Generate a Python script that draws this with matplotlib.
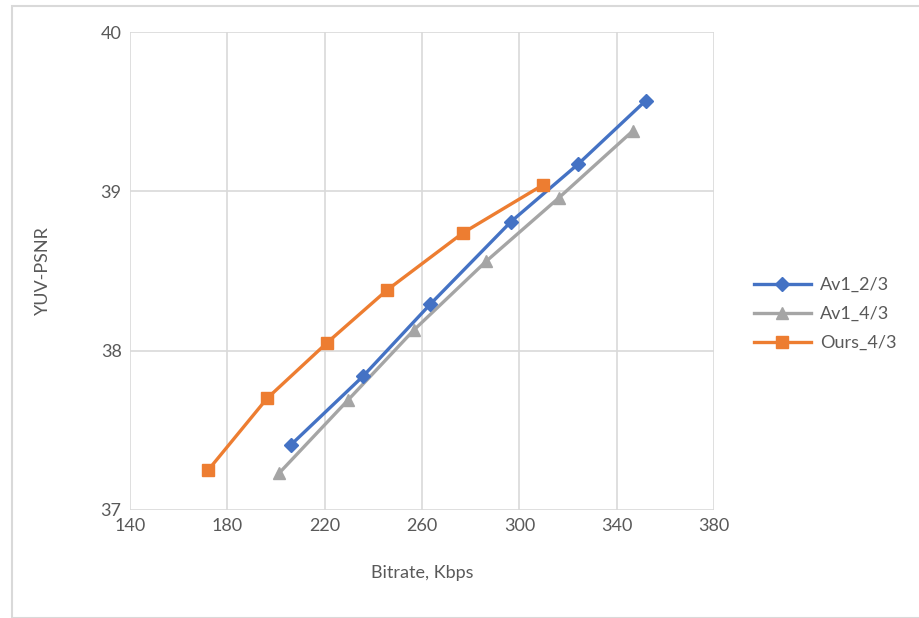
import matplotlib
matplotlib.use("Agg")
import matplotlib.pyplot as plt
from matplotlib.patches import Rectangle

# ---- data ----
av1_23_rate = [206.2, 235.8, 263.3, 296.6, 324.1, 352.0]
av1_23_psnr = [37.41, 37.84, 38.29, 38.81, 39.17, 39.57]

av1_43_rate = [201.2, 229.6, 256.7, 286.3, 316.3, 346.7]
av1_43_psnr = [37.23, 37.69, 38.13, 38.56, 38.96, 39.38]

ours_43_rate = [172.1, 196.3, 221.0, 245.6, 276.9, 309.7]
ours_43_psnr = [37.25, 37.70, 38.05, 38.38, 38.74, 39.04]

x_ticks = [140, 180, 220, 260, 300, 340, 380]
y_ticks = [37, 38, 39, 40]

TXT = "#595959"
GRID = "#d9d9d9"
plt.rcParams["font.family"] = ["Lato", "DejaVu Sans"]

fig = plt.figure(figsize=(9.2, 6.18), dpi=100)
# outer chart border
fig.patches.append(Rectangle((12 / 920, 0), 1.0, 1 - 6 / 618, transform=fig.transFigure,
                             fill=False, edgecolor=GRID, linewidth=1.5))

ax = fig.add_axes([130 / 920, 1 - 510 / 618, (714 - 130) / 920, (510 - 32) / 618])

ax.plot(av1_23_rate, av1_23_psnr, color="#4472C4", lw=2.4, marker="D", ms=7,
        label="Av1_2/3", zorder=4)
ax.plot(av1_43_rate, av1_43_psnr, color="#A5A5A5", lw=2.4, marker="^", ms=9,
        label="Av1_4/3", zorder=3)
ax.plot(ours_43_rate, ours_43_psnr, color="#ED7D31", lw=2.4, marker="s", ms=9,
        label="Ours_4/3", zorder=5)

ax.set_xlim(140, 380)
ax.set_ylim(37, 40)
ax.set_xticks(x_ticks)
ax.set_yticks(y_ticks)
ax.grid(True, color=GRID, lw=1.2)
ax.set_axisbelow(True)
for s in ax.spines.values():
    s.set_visible(False)
ax.tick_params(length=0, colors=TXT, labelsize=13, pad=6)
ax.set_xlabel("Bitrate, Kbps", color=TXT, fontsize=13, labelpad=22)
ax.set_ylabel("YUV-PSNR", color=TXT, fontsize=13, labelpad=36)

leg = ax.legend(loc="center left", bbox_to_anchor=(1.04, 0.41), frameon=False,
                fontsize=13, handlelength=3.2, handletextpad=0.5, labelspacing=0.72)
for t in leg.get_texts():
    t.set_color(TXT)

fig.savefig("out.png", dpi=100)
